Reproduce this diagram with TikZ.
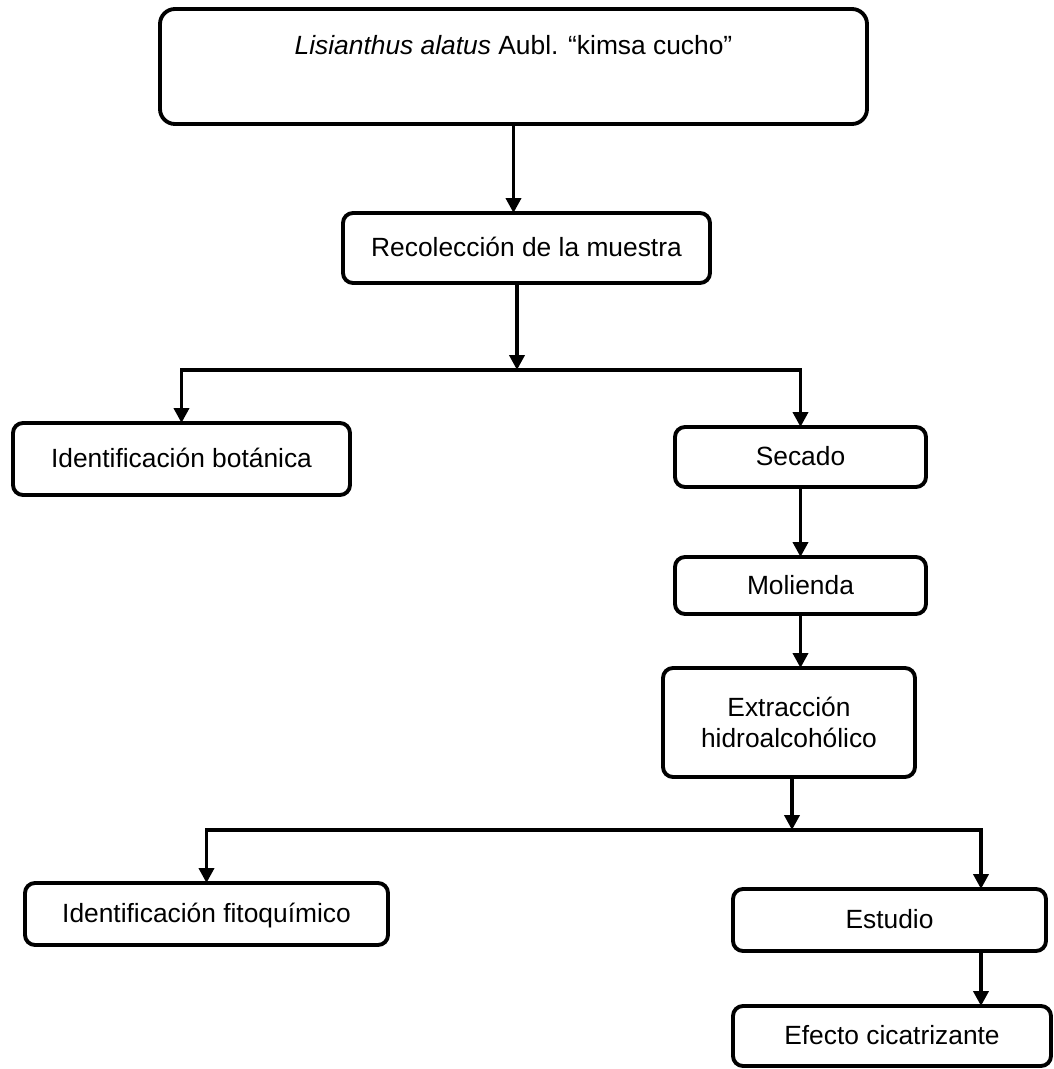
\documentclass[tikz,border=0pt]{standalone}
\usepackage{fontspec}
\setmainfont{Liberation Sans}
\usetikzlibrary{positioning,arrows.meta}

\begin{document}
\begin{tikzpicture}[>={Triangle[length=3mm, width=3mm]}, line width=2.2pt,
      box/.style={draw, rounded corners=2mm, outer sep=0pt, align=center,
          font=\fontsize{15}{18}\selectfont, text height=11pt, text depth=1pt}]

      \useasboundingbox (-10.27,1.33) rectangle (10.79,-20.05);

      % Plant under study
      \node(plant)[box, rounded corners=3mm, minimum width=14.14cm, minimum height=2.3cm,
          text height=0.4cm, text depth=0.88cm] at (0,0)
          {\textit{Lisianthus alatus} Aubl. “kimsa cucho”};

      % Sample collection
      \node(collect)[box, below=1.78cm of plant, xshift=0.26cm,
          minimum width=7.34cm, minimum height=1.4cm] {Recolección de la muestra};

      \draw[->] (plant.south) -- (plant.south |- collect.north);

      % First branch: botanical identification and drying
      \coordinate[below=1.74cm of collect, xshift=-0.19cm] (split1);

      \node(botanic)[box, below=2.8cm of collect, xshift=-6.9cm,
          minimum width=6.74cm, minimum height=1.44cm] {Identificación botánica};
      \node(drying)[box, below=2.88cm of collect, xshift=5.48cm,
          minimum width=5.02cm, minimum height=1.2cm] {Secado};

      \draw[->] (collect.south -| split1) -- (split1);
      \draw[<->] (botanic.north) |- (split1) -| (drying.north);

      % Milling and extraction
      \node(milling)[box, below=1.4cm of drying,
          minimum width=5.02cm, minimum height=1.14cm] {Molienda};
      \node(extract)[box, below=1.08cm of milling, xshift=-0.23cm,
          minimum width=5.04cm, minimum height=2.18cm, text height={}, text depth={}]
          {Extracción\\hidroalcohólico};

      \draw[->] (drying.south) -- (milling.north);
      \draw[->] (milling.south) -- (milling.south |- extract.north);

      % Second branch: phytochemical identification and study
      \coordinate[below=1.06cm of extract, xshift=0.06cm] (split2);

      \node(phyto)[box, below=2.12cm of extract, xshift=-11.65cm,
          minimum width=7.26cm, minimum height=1.24cm] {Identificación fitoquímico};
      \node(study)[box, below=2.24cm of extract, xshift=2.01cm,
          minimum width=6.26cm, minimum height=1.24cm] {Estudio};
      \node(healing)[box, below=1.1cm of study, xshift=0.05cm,
          minimum width=6.36cm, minimum height=1.2cm] {Efecto cicatrizante};

      \coordinate (studyin) at ([xshift=-1.3cm]study.north east);
      \coordinate (studyout) at ([xshift=-1.3cm]study.south east);

      \draw[->] (extract.south -| split2) -- (split2);
      \draw[<->] (phyto.north) |- (split2) -| (studyin);
      \draw[->] (studyout) -- (studyout |- healing.north);

\end{tikzpicture}
\end{document}
